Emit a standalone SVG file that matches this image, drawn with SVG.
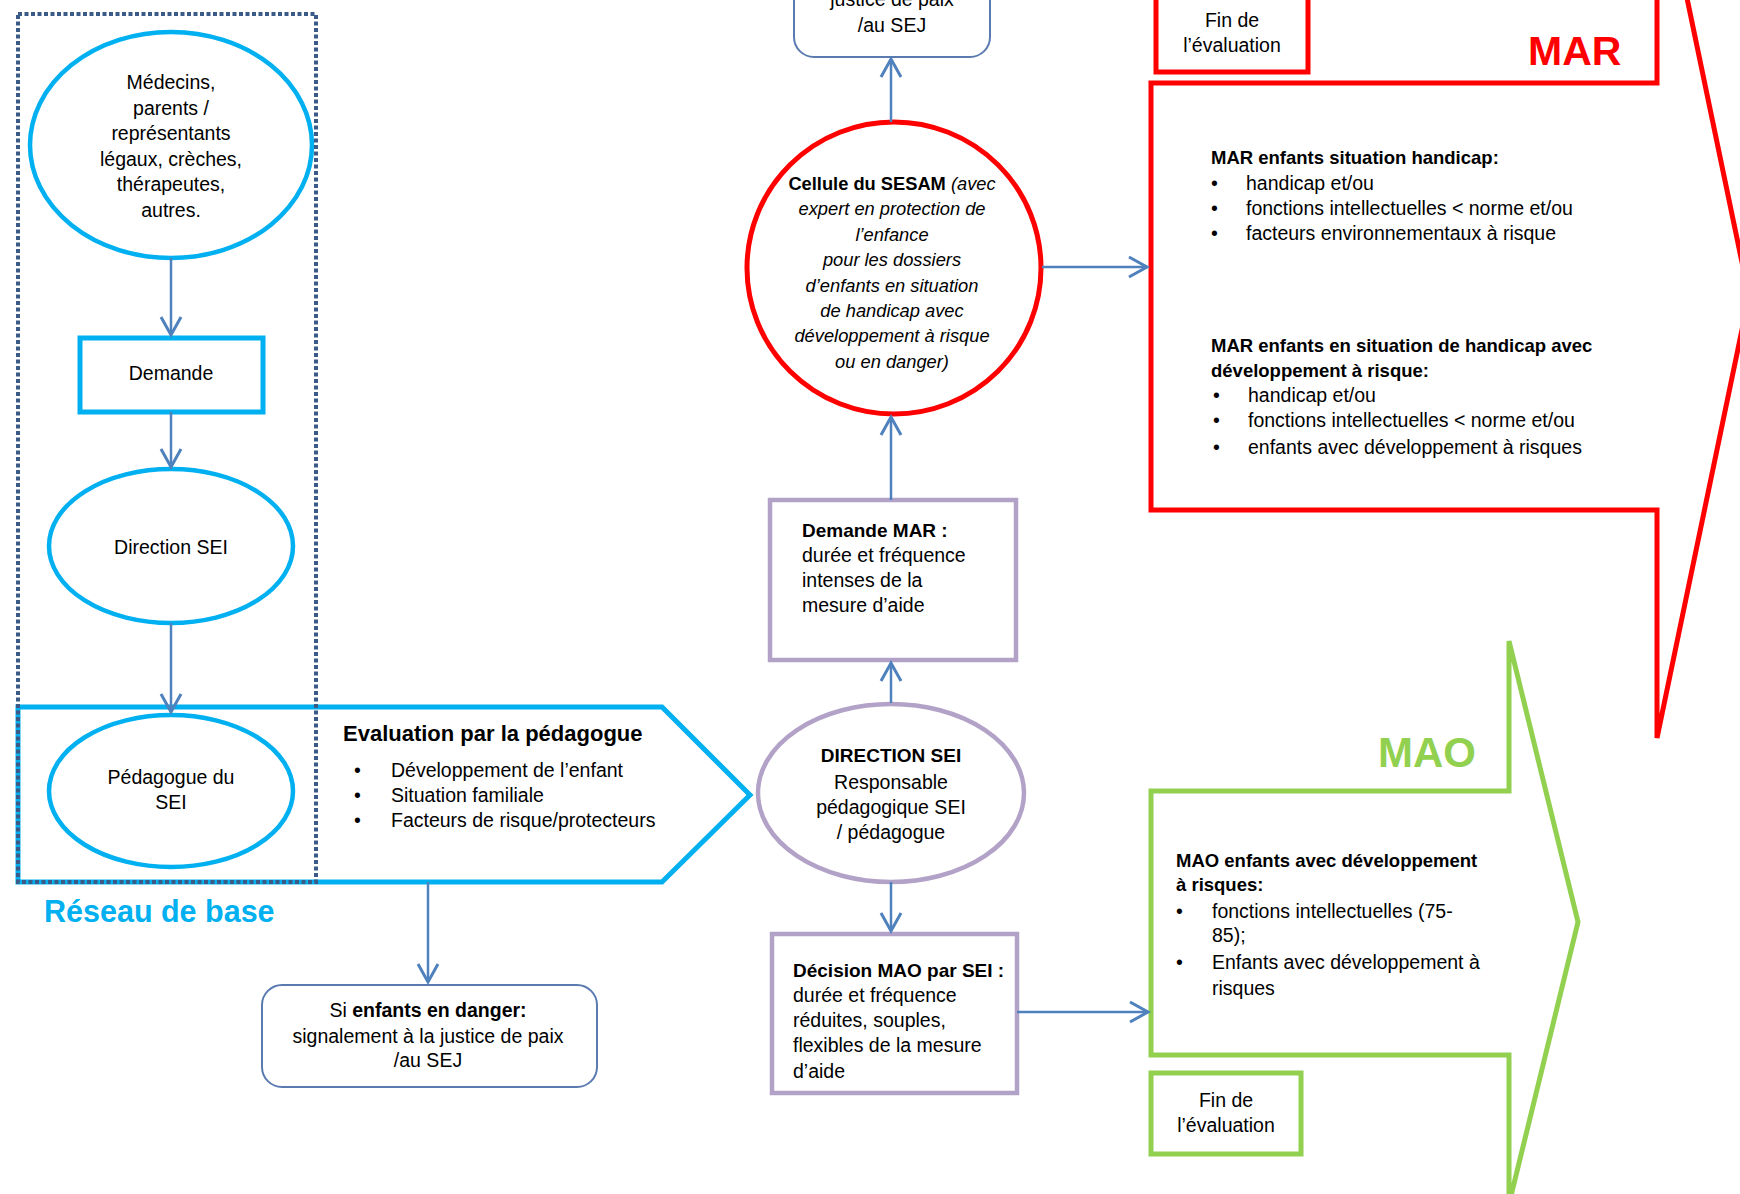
<svg xmlns="http://www.w3.org/2000/svg" width="1740" height="1194" viewBox="0 0 1740 1194">
<style>
  text { font-family: "Liberation Sans", Arial, sans-serif; font-size: 19.5px; fill: #000; }
  .c { text-anchor: middle; }
  .b { font-weight: bold; }
  .i { font-style: italic; }
  .sm { font-size: 18.3px; }
  .blue { fill: none; stroke: #00b0f0; stroke-width: 4.5; }
  .purple { fill: #fff; stroke: #b3a2c7; stroke-width: 4.5; }
  .red { fill: none; stroke: #ff0000; stroke-width: 5; }
  .green { fill: none; stroke: #92d050; stroke-width: 5; }
  .rbox { fill: #fff; stroke: #5b7bb0; stroke-width: 2; }
  .conn { fill: none; stroke: #4f81bd; stroke-width: 2.5; marker-end: url(#arr); }
  .dots { fill: none; stroke: #3b5b86; stroke-width: 4; stroke-dasharray: 4 2.5; }
</style>
<defs>
  <marker id="arr" markerUnits="userSpaceOnUse" markerWidth="30" markerHeight="30" viewBox="-22 -15 30 30" refX="0" refY="0" orient="auto">
    <path d="M-18,-10 L0,0 L-18,10" fill="none" stroke="#4f81bd" stroke-width="3"/>
  </marker>
</defs>
<rect width="1740" height="1194" fill="#fff"/>

<!-- MAR block arrow -->
<g id="mar">
  <polygon class="red" points="1151,83 1657,83 1657,-146 1749,296 1657,738 1657,510 1151,510"/>
  <text class="b" x="1528" y="65" style="font-size:41px;fill:#ff0000">MAR</text>
  <text class="b" x="1211" y="164" style="font-size:18.5px">MAR enfants situation handicap:</text>
  <text x="1211" y="190">•</text><text x="1246" y="190">handicap et/ou</text>
  <text x="1211" y="215">•</text><text x="1246" y="215">fonctions intellectuelles &lt; norme et/ou</text>
  <text x="1211" y="240">•</text><text x="1246" y="240">facteurs environnementaux à risque</text>
  <text class="b" x="1211" y="352" style="font-size:18.5px">MAR enfants en situation de handicap avec</text>
  <text class="b" x="1211" y="377" style="font-size:18.5px">développement à risque:</text>
  <text x="1213" y="402">•</text><text x="1248" y="402">handicap et/ou</text>
  <text x="1213" y="427">•</text><text x="1248" y="427">fonctions intellectuelles &lt; norme et/ou</text>
  <text x="1213" y="454">•</text><text x="1248" y="454">enfants avec développement à risques</text>
</g>
<g id="fin-mar">
  <rect x="1156" y="-6" width="152" height="78" fill="#fff" stroke="#ff0000" stroke-width="5"/>
  <text class="c" x="1232" y="27">Fin de</text>
  <text class="c" x="1232" y="52">l’évaluation</text>
</g>

<!-- MAO block arrow -->
<g id="mao">
  <polygon class="green" points="1151,791 1509,791 1509,641 1578,922 1509,1204 1509,1055 1151,1055"/>
  <text class="b" x="1378" y="767" style="font-size:42px;fill:#92d050">MAO</text>
  <text class="b" x="1176" y="867" style="font-size:18.5px">MAO enfants avec développement</text>
  <text class="b" x="1176" y="891" style="font-size:18.5px">à risques:</text>
  <text x="1176" y="918">•</text><text x="1212" y="918">fonctions intellectuelles (75-</text>
  <text x="1212" y="942">85);</text>
  <text x="1176" y="969">•</text><text x="1212" y="969">Enfants avec développement à</text>
  <text x="1212" y="995">risques</text>
</g>
<g id="fin-mao">
  <rect x="1151" y="1073" width="150" height="81" fill="#fff" stroke="#92d050" stroke-width="5"/>
  <text class="c" x="1226" y="1107">Fin de</text>
  <text class="c" x="1226" y="1132">l’évaluation</text>
</g>

<!-- Evaluation pentagon -->
<g id="evaluation">
  <polygon class="blue" points="18,707 662,707 750,795 662,882 18,882" style="stroke-width:5"/>
  <text class="b" x="343" y="741" style="font-size:22px">Evaluation par la pédagogue</text>
  <text x="354" y="777">•</text><text x="391" y="777">Développement de l’enfant</text>
  <text x="354" y="802">•</text><text x="391" y="802">Situation familiale</text>
  <text x="354" y="827">•</text><text x="391" y="827">Facteurs de risque/protecteurs</text>
</g>

<g id="medecins">
  <ellipse class="blue" cx="171" cy="145" rx="141" ry="113"/>
  <text class="c" x="171" y="89">Médecins,</text>
  <text class="c" x="171" y="114.5">parents /</text>
  <text class="c" x="171" y="140">représentants</text>
  <text class="c" x="171" y="165.5">légaux, crèches,</text>
  <text class="c" x="171" y="191">thérapeutes,</text>
  <text class="c" x="171" y="216.5">autres.</text>
</g>
<g id="demande">
  <rect class="blue" x="80" y="338" width="183" height="74" style="stroke-width:5"/>
  <text class="c" x="171" y="380">Demande</text>
</g>
<g id="direction-sei-1">
  <ellipse class="blue" cx="171" cy="546" rx="122" ry="77"/>
  <text class="c" x="171" y="554">Direction SEI</text>
</g>
<g id="pedagogue">
  <ellipse class="blue" cx="171" cy="791" rx="122" ry="76"/>
  <text class="c" x="171" y="784">Pédagogue du</text>
  <text class="c" x="171" y="809">SEI</text>
</g>

<g id="reseau">
  <rect class="dots" x="18" y="14" width="298" height="868"/>
  <text class="b" x="44" y="922" style="font-size:30.5px;fill:#00b0f0">Réseau de base</text>
</g>

<g id="signalement-bas">
  <rect class="rbox" x="262" y="985" width="335" height="102" rx="20"/>
  <text class="c" x="428" y="1017">Si <tspan class="b">enfants en danger:</tspan></text>
  <text class="c" x="428" y="1043">signalement à la justice de paix</text>
  <text class="c" x="428" y="1067">/au SEJ</text>
</g>
<g id="signalement-haut">
  <rect class="rbox" x="794" y="-60" width="196" height="117" rx="20"/>
  <text class="c" x="892" y="6">justice de paix</text>
  <text class="c" x="892" y="32">/au SEJ</text>
</g>

<g id="cellule-sesam">
  <ellipse cx="894" cy="268" rx="147" ry="146" fill="#fff" stroke="#ff0000" stroke-width="5"/>
  <text class="c sm" x="892" y="190"><tspan class="b">Cellule du SESAM</tspan><tspan class="i"> (avec</tspan></text>
  <text class="c sm i" x="892" y="215.4">expert en protection de</text>
  <text class="c sm i" x="892" y="240.8">l’enfance</text>
  <text class="c sm i" x="892" y="266.2">pour les dossiers</text>
  <text class="c sm i" x="892" y="291.6">d’enfants en situation</text>
  <text class="c sm i" x="892" y="317">de handicap  avec</text>
  <text class="c sm i" x="892" y="342.4">développement à risque</text>
  <text class="c sm i" x="892" y="367.8">ou en danger)</text>
</g>

<g id="demande-mar">
  <rect class="purple" x="770" y="500" width="246" height="160"/>
  <text class="b" x="802" y="537" style="font-size:19px">Demande MAR :</text>
  <text x="802" y="562">durée et fréquence</text>
  <text x="802" y="587">intenses de la</text>
  <text x="802" y="612">mesure d’aide</text>
</g>

<g id="direction-sei-2">
  <ellipse class="purple" cx="891" cy="793" rx="133" ry="89"/>
  <text class="c b" x="891" y="762" style="font-size:19px">DIRECTION SEI</text>
  <text class="c" x="891" y="789">Responsable</text>
  <text class="c" x="891" y="814">pédagogique SEI</text>
  <text class="c" x="891" y="839">/ pédagogue</text>
</g>

<g id="decision-mao">
  <rect class="purple" x="772" y="934" width="245" height="159"/>
  <text class="b" x="793" y="977" style="font-size:19px">Décision MAO par SEI :</text>
  <text x="793" y="1002">durée et fréquence</text>
  <text x="793" y="1027">réduites, souples,</text>
  <text x="793" y="1052">flexibles de la mesure</text>
  <text x="793" y="1078">d’aide</text>
</g>

<g id="connectors">
  <line class="conn" x1="171" y1="258" x2="171" y2="335"/>
  <line class="conn" x1="171" y1="412" x2="171" y2="467"/>
  <line class="conn" x1="171" y1="623" x2="171" y2="712"/>
  <line class="conn" x1="428" y1="882" x2="428" y2="982"/>
  <line class="conn" x1="891" y1="703" x2="891" y2="663"/>
  <line class="conn" x1="891" y1="500" x2="891" y2="417"/>
  <line class="conn" x1="891" y1="122" x2="891" y2="59"/>
  <line class="conn" x1="1042" y1="267" x2="1147" y2="267"/>
  <line class="conn" x1="891" y1="882" x2="891" y2="931"/>
  <line class="conn" x1="1017" y1="1012" x2="1148" y2="1012"/>
</g>
</svg>
